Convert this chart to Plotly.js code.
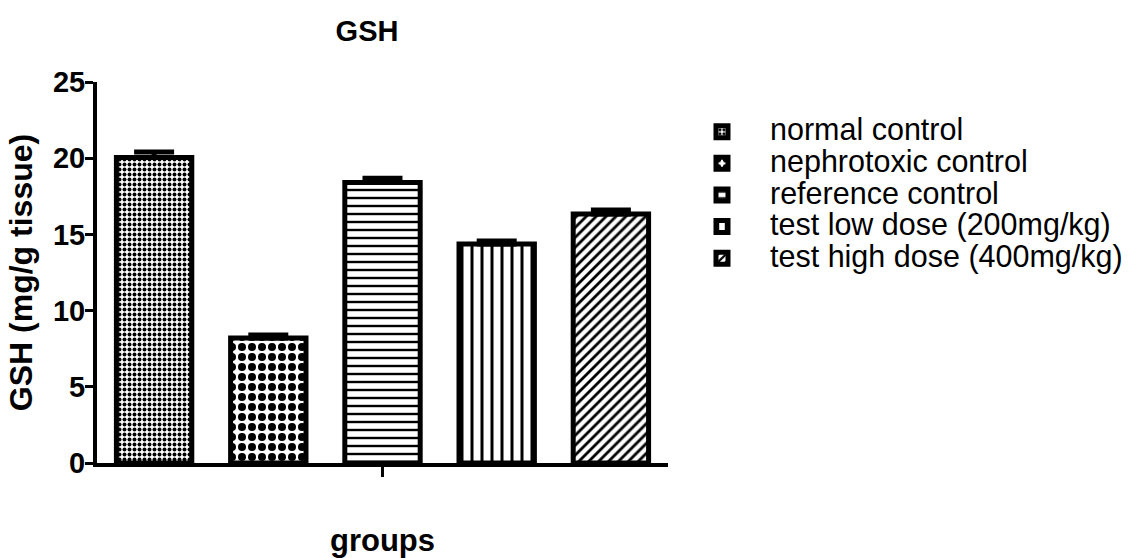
<!DOCTYPE html>
<html>
<head>
<meta charset="utf-8">
<script src="https://cdn.plot.ly/plotly-3.0.1.min.js"></script>
<style>html,body{margin:0;padding:0;background:#fff;}#chart{width:1130px;height:558px;}</style>
</head>
<body>
<div id="chart"></div>
<script>
const groupNames = ["normal control", "nephrotoxic control", "reference control", "test low dose (200mg/kg)", "test high dose (400mg/kg)"];
const means = [20.05, 8.2, 18.4, 14.37, 16.34];
const sems = [0.35, 0.2, 0.28, 0.2, 0.26];
const category = ["groups"];
const yTicks = [0, 5, 10, 15, 20, 25];
const patternShapes = [".", ".", "-", "|", "/"];
const patternSizes = [5, 10, 8, 10, 7];
const patternSolidity = [0.5, 0.5, 0.3, 0.3, 0.4];

const FONT = "Arial, 'Liberation Sans', sans-serif";

const traces = groupNames.map((name, i) => ({
  type: "bar",
  name: '<span style="font-size:30.5px">' + name + '</span>',
  x: category,
  y: [means[i]],
  error_y: {type: "data", array: [sems[i]], arrayminus: [0], symmetric: false, color: "#000", thickness: 5, width: 20},
  marker: {
    color: "#fff",
    line: {color: "#000", width: 5},
    pattern: {shape: patternShapes[i], size: patternSizes[i], solidity: patternSolidity[i], fgcolor: "#000", bgcolor: "#fff", fillmode: "replace"}
  },
  hoverinfo: "skip"
}));

const layout = {
  width: 1130, height: 558,
  margin: {l: 97, r: 462, t: 82, b: 95, autoexpand: false},
  paper_bgcolor: "#fff", plot_bgcolor: "#fff",
  font: {family: FONT, color: "#000"},
  barmode: "group", bargap: 0, bargroupgap: 0.34,
  showlegend: true,
  title: {text: "GSH", font: {family: FONT, size: 29, weight: "bold", color: "#000"}, x: 0.3248, xref: "container", xanchor: "center", y: 0.945, yref: "container", yanchor: "middle"},
  xaxis: {
    type: "category", range: [-0.5, 0.5], showline: true, linewidth: 4, linecolor: "#000",
    ticks: "outside", ticklen: 10, tickwidth: 3, tickcolor: "#000", showticklabels: false,
    showgrid: false, zeroline: false, fixedrange: true,
    title: {text: "groups", font: {family: FONT, size: 31, weight: "bold", color: "#000"}, standoff: 55}
  },
  yaxis: {
    range: [0, 25], tickvals: yTicks, showline: true, linewidth: 4, linecolor: "#000",
    ticks: "outside", ticklen: 8, tickwidth: 3, tickcolor: "#000",
    tickfont: {family: FONT, size: 29, weight: "bold", color: "#000"}, ticklabelstandoff: -6,
    showgrid: false, zeroline: false, fixedrange: true,
    title: {text: "GSH (mg/g tissue)", font: {family: FONT, size: 32, weight: "bold", color: "#000"}, standoff: 12}
  },
  legend: {
    x: 1.0105, xanchor: "left", y: 0.924, yanchor: "top",
    font: {family: FONT, size: 22, color: "#000"},
    itemwidth: 86, traceorder: "normal", bgcolor: "rgba(0,0,0,0)", tracegroupgap: 0
  }
};

Plotly.newPlot("chart", traces, layout, {staticPlot: true, displayModeBar: false});
</script>
</body>
</html>
